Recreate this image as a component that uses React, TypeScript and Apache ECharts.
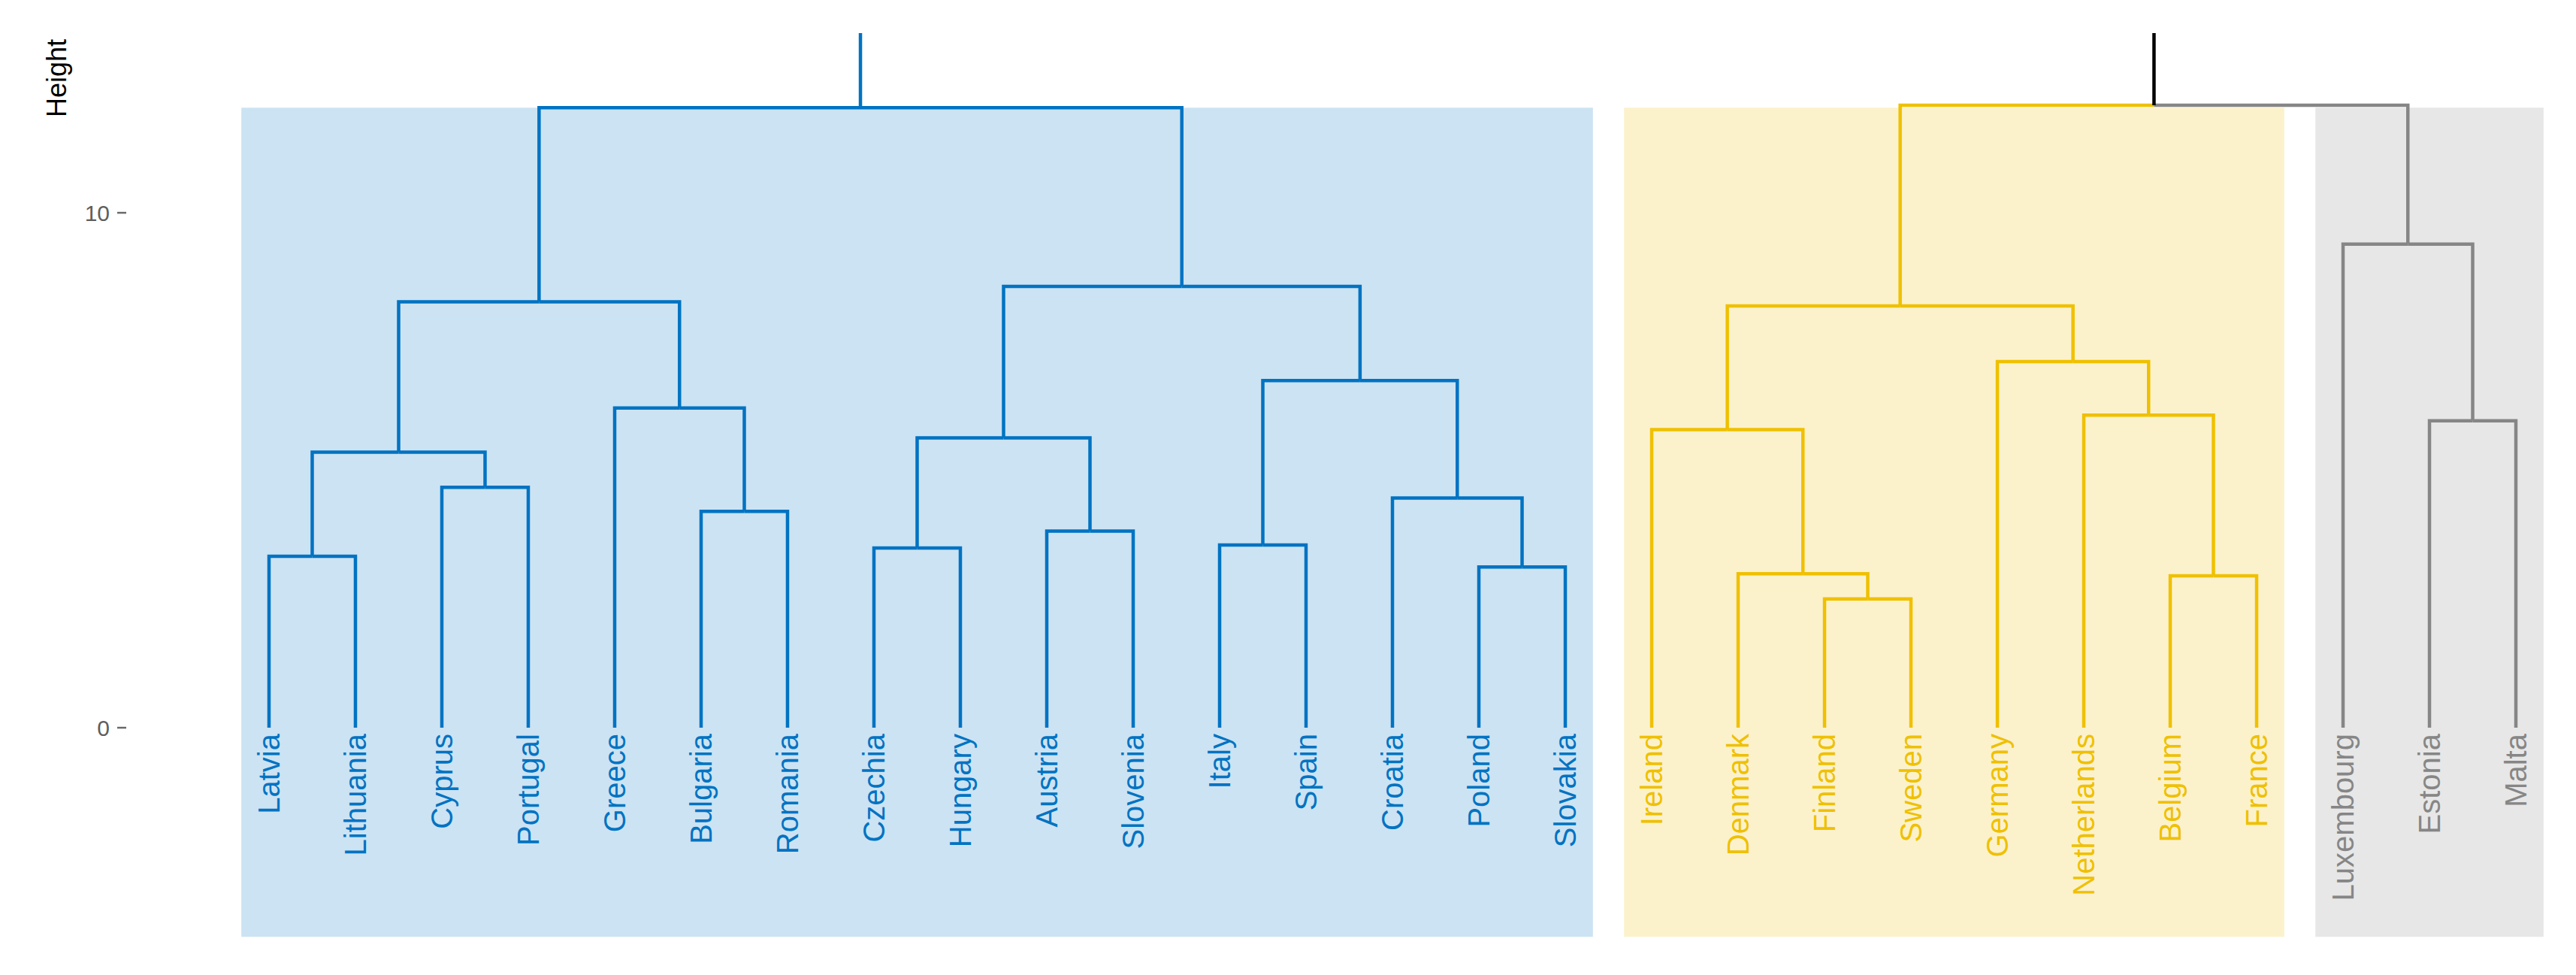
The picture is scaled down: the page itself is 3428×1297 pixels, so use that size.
import React, { useEffect, useRef } from "react";
import * as echarts from "echarts";

// ---------- data ----------
const LEAVES = [
  "Latvia", "Lithuania", "Cyprus", "Portugal", "Greece", "Bulgaria", "Romania",
  "Czechia", "Hungary", "Austria", "Slovenia", "Italy", "Spain", "Croatia",
  "Poland", "Slovakia",
  "Ireland", "Denmark", "Finland", "Sweden", "Germany", "Netherlands", "Belgium", "France",
  "Luxembourg", "Estonia", "Malta",
];
const LEAF_CLUSTER = [
  0, 0, 0, 0, 0, 0, 0, 0, 0, 0, 0, 0, 0, 0, 0, 0,
  1, 1, 1, 1, 1, 1, 1, 1,
  2, 2, 2,
];
const CLUSTER_COLORS = ["#0073C2", "#EFC000", "#868686"];
const CLUSTER_FILLS = ["#CCE3F3", "#FBF2CC", "#E7E7E7"];
const MIXED_COLOR = "#000000";

// merges (node n{k} is the k-th merge, 1-based)
const MERGE_LEFT = [
  "Latvia", "Cyprus", "n1", "Bulgaria", "Greece", "n3",
  "Czechia", "Austria", "n7", "Italy", "Poland", "Croatia", "n10", "n9", "n6",
  "Finland", "Denmark", "Ireland", "Belgium", "Netherlands", "Germany", "n18",
  "Estonia", "Luxembourg", "n22", "n15",
];
const MERGE_RIGHT = [
  "Lithuania", "Portugal", "n2", "Romania", "n4", "n5",
  "Hungary", "Slovenia", "n8", "Spain", "Slovakia", "n11", "n12", "n13", "n14",
  "Sweden", "n16", "n17", "France", "n19", "n20", "n21",
  "Malta", "n23", "n24", "n25",
];
const MERGE_HEIGHT = [
  3.33, 4.67, 5.35, 4.2, 6.21, 8.27,
  3.49, 3.82, 5.63, 3.55, 3.12, 4.46, 6.74, 8.57, 12.04,
  2.5, 2.99, 5.79, 2.95, 6.07, 7.11, 8.19,
  5.96, 9.39, 12.09, 15.0,
];
const Y_TICKS = [0, 10];
const Y_TITLE = "Height";

// ---------- layout constants ----------
const Y_MIN = -4.3;
const Y_MAX = 13.49;
const X_MIN = -1.652;
const X_MAX = 26.626;
const RECT_TOP = 12.04;
const RECT_BOTTOM = -4.06;
const RECT_PAD = 0.32;
const FONT = "'Liberation Sans', Arial, sans-serif";
const LINE_W = 4.5;
const TICK_LEN = 12;

function buildTree() {
  const nx: Record<string, number> = {};
  const nh: Record<string, number> = {};
  const nc: Record<string, number> = {};
  LEAVES.forEach((n, i) => {
    nx[n] = i;
    nh[n] = 0;
    nc[n] = LEAF_CLUSTER[i];
  });
  const segs: number[][] = [];
  MERGE_HEIGHT.forEach((h, k) => {
    const id = "n" + (k + 1);
    const a = MERGE_LEFT[k];
    const b = MERGE_RIGHT[k];
    nx[id] = (nx[a] + nx[b]) / 2;
    nh[id] = h;
    nc[id] = nc[a] === nc[b] ? nc[a] : -1;
    segs.push([nx[a], nh[a], nx[id], h, nc[a]]);
    segs.push([nx[b], nh[b], nx[id], h, nc[b]]);
  });
  return segs;
}

function clusterRanges() {
  const out: number[][] = [];
  LEAF_CLUSTER.forEach((c, i) => {
    const last = out[out.length - 1];
    if (last && last[2] === c) last[1] = i;
    else out.push([i, i, c]);
  });
  return out;
}

export default function App() {
  const ref = useRef<HTMLDivElement>(null);
  useEffect(() => {
    if (!ref.current) return;
    const chart = echarts.init(ref.current, null, { renderer: "svg" });
    const segs = buildTree();
    const ranges = clusterRanges();
    const colorOf = (c: number) => (c < 0 ? MIXED_COLOR : CLUSTER_COLORS[c]);

    chart.setOption({
      animation: false,
      backgroundColor: "#ffffff",
      grid: { left: 168, right: 3428 - 168 - 3252, top: 44, bottom: 1297 - 1262.6 },
      xAxis: {
        type: "value",
        min: X_MIN,
        max: X_MAX,
        show: false,
      },
      yAxis: {
        type: "value",
        min: Y_MIN,
        max: Y_MAX,
        axisLine: { show: false },
        splitLine: { show: false },
        axisTick: { show: false },
        axisLabel: {
          customValues: Y_TICKS,
          fontSize: 30,
          color: "#5e5e5e",
          fontFamily: FONT,
          margin: 22,
        },
      },
      graphic: [
        {
          type: "text",
          x: 75,
          y: 104,
          rotation: Math.PI / 2,
          style: {
            text: Y_TITLE,
            fontSize: 36,
            fontFamily: FONT,
            fill: "#000000",
            align: "center",
            verticalAlign: "middle",
          },
        },
      ],
      series: [
        {
          type: "custom",
          z: 1,
          silent: true,
          data: ranges,
          renderItem: (params: any, api: any) => {
            const s = api.value(0);
            const e = api.value(1);
            const c = api.value(2);
            const p1 = api.coord([s - RECT_PAD, RECT_TOP]);
            const p2 = api.coord([e + RECT_PAD, RECT_BOTTOM]);
            return {
              type: "rect",
              shape: { x: p1[0], y: p1[1], width: p2[0] - p1[0], height: p2[1] - p1[1] },
              style: { fill: CLUSTER_FILLS[c], stroke: null },
            };
          },
        },
        {
          type: "custom",
          z: 2,
          silent: true,
          clip: true,
          data: segs,
          renderItem: (params: any, api: any) => {
            const cx = api.value(0);
            const ch = api.value(1);
            const px = api.value(2);
            const ph = api.value(3);
            const c = api.value(4);
            let points;
            if (ph > Y_MAX) {
              points = [api.coord([cx, ch]), api.coord([cx, Y_MAX])];
            } else {
              points = [api.coord([cx, ch]), api.coord([cx, ph]), api.coord([px, ph])];
            }
            return {
              type: "polyline",
              shape: { points },
              style: { stroke: colorOf(c), lineWidth: LINE_W, fill: null, lineJoin: "miter", lineCap: "butt" },
            };
          },
        },
        {
          type: "custom",
          z: 3,
          silent: true,
          data: LEAVES.map((n, i) => [i, LEAF_CLUSTER[i]]),
          renderItem: (params: any, api: any) => {
            const i = api.value(0);
            const c = api.value(1);
            const p = api.coord([i, 0]);
            return {
              type: "text",
              x: p[0],
              y: p[1] + 8,
              rotation: Math.PI / 2,
              style: {
                text: LEAVES[i],
                fill: CLUSTER_COLORS[c],
                fontSize: 40,
                fontFamily: FONT,
                align: "right",
                verticalAlign: "middle",
              },
            };
          },
        },
        {
          // y-axis tick marks
          type: "custom",
          z: 3,
          silent: true,
          data: Y_TICKS.map((v) => [X_MIN, v]),
          renderItem: (params: any, api: any) => {
            const p = api.coord([api.value(0), api.value(1)]);
            return {
              type: "line",
              shape: { x1: p[0] - TICK_LEN, y1: p[1], x2: p[0], y2: p[1] },
              style: { stroke: "#6a6a6a", lineWidth: 2.5 },
            };
          },
        },
      ],
    });
    return () => chart.dispose();
  }, []);
  return (
    <div
      ref={ref}
      style={{ position: "fixed", left: 0, top: 0, width: 3428, height: 1297 }}
    />
  );
}
